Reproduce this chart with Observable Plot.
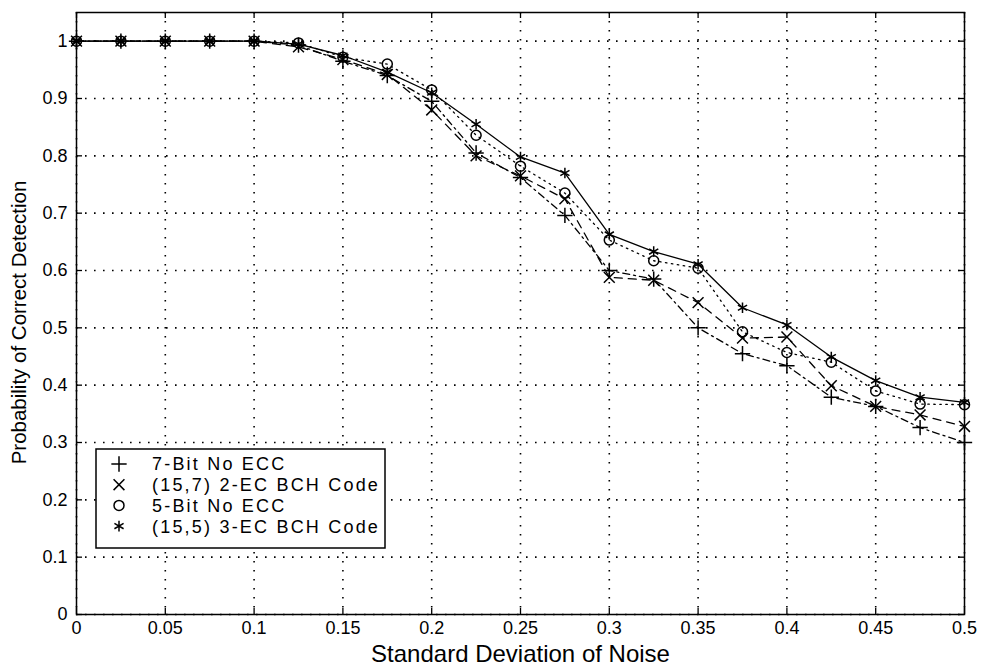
<!DOCTYPE html>
<html><head><meta charset="utf-8">
<script src="https://cdn.jsdelivr.net/npm/d3@7"></script>
<script src="https://cdn.jsdelivr.net/npm/@observablehq/plot@0.6"></script>
<style>
body{margin:0;background:#fff}
#chart svg{font-family:"Liberation Sans",Arial,sans-serif}
</style>
</head><body><div id="chart"></div>
<script>
// ---- data ----
const noise = [0,0.025,0.05,0.075,0.1,0.125,0.15,0.175,0.2,0.225,0.25,0.275,0.3,0.325,0.35,0.375,0.4,0.425,0.45,0.475,0.5];
const bit7   = [1,1,1,1,1,0.993,0.965,0.940,0.895,0.805,0.762,0.696,0.600,0.585,0.500,0.455,0.434,0.379,0.363,0.326,0.300];
const bch157 = [1,1,1,1,1,0.990,0.968,0.942,0.880,0.800,0.765,0.725,0.588,0.583,0.544,0.482,0.484,0.399,0.363,0.348,0.328];
const bit5   = [1,1,1,1,1,0.997,0.972,0.960,0.915,0.836,0.782,0.735,0.653,0.617,0.604,0.493,0.457,0.440,0.390,0.367,0.366];
const bch155 = [1,1,1,1,1,0.995,0.975,0.946,0.910,0.855,0.798,0.770,0.663,0.633,0.611,0.535,0.505,0.449,0.408,0.379,0.370];
const seriesNames = ["7-Bit No ECC","(15,7) 2-EC BCH Code","5-Bit No ECC","(15,5) 3-EC BCH Code"];
const xTicks = [0,0.05,0.1,0.15,0.2,0.25,0.3,0.35,0.4,0.45,0.5];
const yTicks = [0,0.1,0.2,0.3,0.4,0.5,0.6,0.7,0.8,0.9,1];
const xLabel = "Standard Deviation of Noise";
const yLabel = "Probability of Correct Detection";

// ---- styling ----
const seriesValues = [bit7, bch157, bit5, bch155];
const symbols = ["plus","times","circle","asterisk"];
const d3Symbols = [d3.symbolPlus, d3.symbolTimes, d3.symbolCircle, d3.symbolAsterisk];
const dashes = ["7,4,2,4","8,6","1.5,4.5",null];

const W = 982, H = 669, mL = 76, mR = 18, mT = 12, mB = 55;
const innerW = W - mL - mR, innerH = H - mT - mB;
const tickLen = 6;
const labelFont = "Liberation Sans Narrow, Liberation Sans, sans-serif";

const series = seriesNames.map((name, k) =>
  noise.map((x, i) => ({x, y: seriesValues[k][i], s: name})));

const gridStyle = {stroke: "black", strokeOpacity: 1, strokeWidth: 1.6, strokeDasharray: "1.6,7.4"};

const marks = [
  Plot.gridX(xTicks, gridStyle),
  Plot.gridY(yTicks, gridStyle),
  Plot.frame({stroke: "black", strokeWidth: 1.5}),
  Plot.tickX(xTicks, {x: d => d, stroke: "black", strokeWidth: 1.3, insetTop: innerH - tickLen}),
  Plot.tickX(xTicks, {x: d => d, stroke: "black", strokeWidth: 1.3, insetBottom: innerH - tickLen}),
  Plot.tickY(yTicks, {y: d => d, stroke: "black", strokeWidth: 1.3, insetRight: innerW - tickLen}),
  Plot.tickY(yTicks, {y: d => d, stroke: "black", strokeWidth: 1.3, insetLeft: innerW - tickLen}),
  Plot.axisX(xTicks, {tickSize: 0, tickPadding: 7, fontSize: 18, fill: "black", label: null, tickFormat: d => String(d)}),
  Plot.axisY(yTicks, {tickSize: 0, tickPadding: 9, fontSize: 18, fill: "black", label: null, tickFormat: d => String(d)}),
  Plot.text([xLabel], {text: d => d, frameAnchor: "bottom", dy: 47, fontSize: 24, fill: "black", fontFamily: labelFont}),
  Plot.text([yLabel], {text: d => d, frameAnchor: "left", textAnchor: "middle", rotate: -90, dx: -57, dy: 9, fontSize: 20.5, fill: "black", fontFamily: labelFont})
];
series.forEach((data, k) => {
  marks.push(Plot.line(data, {x: "x", y: "y", stroke: "black", strokeWidth: 1.3, strokeDasharray: dashes[k]}));
  marks.push(Plot.dot(data, {x: "x", y: "y", symbol: symbols[k], r: 5, stroke: "black", strokeWidth: 1.5, fill: "none"}));
});

const chart = Plot.plot({
  width: W, height: H,
  marginLeft: mL, marginRight: mR, marginTop: mT, marginBottom: mB,
  x: {domain: [0, 0.5]},
  y: {domain: [0, 1.05]},
  style: {background: "white", color: "black", fontFamily: "Liberation Sans, Arial, sans-serif"},
  marks
});
document.getElementById("chart").appendChild(chart);

// ---- legend (inside the axes, lower left) ----
const svg = d3.select(chart);
const lg = svg.append("g").attr("transform", "translate(96,449)");
lg.append("rect").attr("width", 289).attr("height", 99).attr("fill", "white").attr("stroke", "black").attr("stroke-width", 1.5);
seriesNames.forEach((name, k) => {
  const yy = 15 + k * 20.7;
  lg.append("path").attr("transform", `translate(23,${yy})`)
    .attr("d", d3.symbol(d3Symbols[k], Math.PI * 25)())
    .attr("fill", "none").attr("stroke", "black").attr("stroke-width", 1.5);
  lg.append("text").attr("x", 56).attr("y", yy).attr("dy", "0.36em")
    .attr("text-anchor", "start").attr("letter-spacing", "2.2px")
    .attr("font-size", 18).attr("fill", "black").text(name);
});
</script>
</body></html>
